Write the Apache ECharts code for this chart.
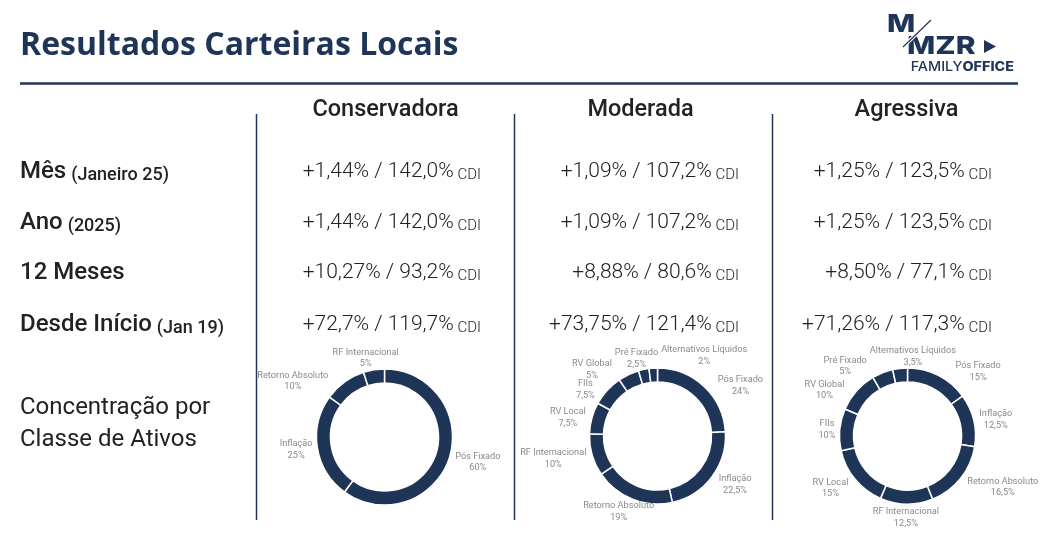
<!DOCTYPE html>
<html>
<head>
<meta charset="utf-8">
<script src="https://cdn.jsdelivr.net/npm/echarts@6/dist/echarts.min.js"></script>
<style>
  html, body { margin: 0; padding: 0; background: #fff; }
  #chart { width: 1043px; height: 533px; }
</style>
</head>
<body>
<div id="chart"></div>
<script>
// ── dados ────────────────────────────────────────────────────────────────
const carteiras = ['Conservadora', 'Moderada', 'Agressiva'];
const periodos = ['Mês', 'Ano', '12 Meses', 'Desde Início'];
const periodosDetalhe = ['(Janeiro 25)', '(2025)', '', '(Jan 19)'];

const retornoConservadora = ['+1,44%', '+1,44%', '+10,27%', '+72,7%'];
const cdiConservadora = ['142,0%', '142,0%', '93,2%', '119,7%'];
const retornoModerada = ['+1,09%', '+1,09%', '+8,88%', '+73,75%'];
const cdiModerada = ['107,2%', '107,2%', '80,6%', '121,4%'];
const retornoAgressiva = ['+1,25%', '+1,25%', '+8,50%', '+71,26%'];
const cdiAgressiva = ['123,5%', '123,5%', '77,1%', '117,3%'];

const classesConservadora = ['Pós Fixado', 'Inflação', 'Retorno Absoluto', 'RF Internacional'];
const pesosConservadora = [60, 25, 10, 5];
const classesModerada = ['Pós Fixado', 'Inflação', 'Retorno Absoluto', 'RF Internacional', 'RV Local',
  'FIIs', 'RV Global', 'Pré Fixado', 'Alternativos Líquidos'];
const pesosModerada = [24, 22.5, 19, 10, 7.5, 7.5, 5, 2.5, 2];
const classesAgressiva = classesModerada;
const pesosAgressiva = [15, 12.5, 16.5, 12.5, 15, 10, 10, 5, 3.5];

// ── estilo / layout ──────────────────────────────────────────────────────
const NAVY = '#1f3557';
const TEXT = '#222222';
const colX = [256.5, 514.5, 772.5];          // divisórias verticais
const colCenter = [385.5, 640.5, 906.5];      // centro dos cabeçalhos
const colRight = [481, 739, 992];             // alinhamento dos valores
const rowY = [172, 223, 273, 325];
const pieCenters = [[384.5, 437], [657.5, 436], [907.5, 436]];
const R_IN = 54, R_OUT = 68;
const LABEL_FONT = { size: 9.2, family: 'Roboto', weight: 400, lineHeight: 11.5 };

const fmtPct = v => String(v).replace('.', ',') + '%';

// mede texto para posicionar rótulos (centralizados como no original)
const ctx = document.createElement('canvas').getContext('2d');
ctx.font = `${LABEL_FONT.weight} ${LABEL_FONT.size}px ${LABEL_FONT.family}`;
const textW = s => ctx.measureText(s).width;

/** posições dos rótulos: por fora do anel, vizinhos empurrados no sentido horário */
function layoutRotulos(center, classes, pesos) {
  const RG = R_OUT + 2;
  const total = pesos.reduce((a, b) => a + b, 0);
  let acc = 0;
  const boxes = classes.map((nome, i) => {
    const a = (acc + pesos[i] / 2) / total * Math.PI * 2;
    acc += pesos[i];
    const w = Math.max(textW(nome), textW(fmtPct(pesos[i])));
    const h = LABEL_FONT.lineHeight * 2;
    const dx = Math.sin(a), dy = -Math.cos(a);
    let yc;
    if (dy >= 0) {
      yc = dy * (RG + h / 2);
    } else {
      const f = Math.min(1, Math.max(0, (-dy - 0.85) / 0.15));
      yc = dy * (RG - 1 + f * h / 2);
    }
    const yNear = (yc - h / 2 <= 0 && yc + h / 2 >= 0) ? 0 : Math.min(Math.abs(yc - h / 2), Math.abs(yc + h / 2));
    const xEdge = Math.sqrt(Math.max(0, RG * RG - yNear * yNear));
    const radial = dx * (RG + w / 2);
    let xc;
    if (dy < 0 && Math.abs(dx) < 0.25) xc = dx * 120;
    else if (dy >= 0 && Math.abs(dx) < 0.5) xc = radial;
    else xc = Math.sign(dx) * Math.max(Math.abs(radial), xEdge + 2 + w / 2);
    return { x: center[0] + xc, y: center[1] + yc, w, h };
  });
  for (let i = 1; i < boxes.length; i++) {
    const p = boxes[i - 1], b = boxes[i];
    const ox = (p.w + b.w) / 2 + 3 - Math.abs(b.x - p.x);
    const oy = (p.h + b.h) / 2 - 6 - Math.abs(b.y - p.y);
    if (ox > 0 && oy > 0) b.x += ox * (b.x >= p.x ? 1 : -1);
  }
  return boxes;
}

function pieSerie(center, classes, pesos) {
  const boxes = layoutRotulos(center, classes, pesos);
  return {
    type: 'pie',
    center: center,
    radius: [R_IN, R_OUT],
    startAngle: 90,
    clockwise: true,
    avoidLabelOverlap: false,
    silent: true,
    animation: false,
    data: classes.map((nome, i) => ({ name: nome, value: pesos[i] })),
    itemStyle: { color: NAVY, borderColor: '#ffffff', borderWidth: 1.5 },
    label: {
      show: true,
      position: 'outside',
      formatter: p => p.name + '\n' + fmtPct(p.value),
      color: '#8a8a8a',
      fontSize: LABEL_FONT.size,
      fontFamily: LABEL_FONT.family,
      fontWeight: LABEL_FONT.weight,
      lineHeight: LABEL_FONT.lineHeight
    },
    labelLine: { show: false },
    labelLayout: params => {
      const b = boxes[params.dataIndex];
      return { x: b.x, y: b.y, align: 'center', verticalAlign: 'middle' };
    }
  };
}

function txt(x, y, text, opts) {
  const o = Object.assign({ size: 20, weight: 400, family: 'Roboto', color: TEXT, align: 'left', scaleX: 1 }, opts || {});
  return {
    type: 'text',
    silent: true,
    x, y,
    scaleX: o.scaleX,
    style: {
      x: 0, y: 0, text,
      fontSize: o.size, fontWeight: o.weight, fontFamily: o.family,
      fill: o.color,
      align: o.align, textAlign: o.align,
      verticalAlign: 'middle', textVerticalAlign: 'middle',
      rich: o.rich
    }
  };
}

function line(x1, y1, x2, y2, w, color) {
  return {
    type: 'line', silent: true,
    shape: { x1, y1, x2, y2 },
    style: { stroke: color || NAVY, lineWidth: w }
  };
}

// ── elementos fixos ──────────────────────────────────────────────────────
const graphics = [];
graphics.push(txt(20, 46, 'Resultados Carteiras Locais', { size: 32, weight: 700, family: 'Open Sans', color: NAVY }));
graphics.push(line(20, 83.5, 1018, 83.5, 2.5));

// logo MMZR
const logoFont = { size: 25, weight: 800, family: 'Inter', color: NAVY, scaleX: 1.2 };
graphics.push(txt(887, 24, 'M', logoFont));
graphics.push(txt(907, 46, 'MZR', logoFont));
graphics.push(line(903, 47, 931, 20, 3.5, '#ffffff'));
graphics.push(line(903, 47, 931, 20, 1.2));
graphics.push({ type: 'polygon', silent: true, shape: { points: [[984, 40], [984, 53], [996, 46.5]] },
  style: { fill: NAVY } });
graphics.push(txt(1014, 67.5, '{a|FAMILY}{b|OFFICE}', {
  align: 'right', color: NAVY, scaleX: 1.15,
  rich: {
    a: { fontSize: 12.5, fontWeight: 500, fontFamily: 'Inter', color: NAVY },
    b: { fontSize: 12.5, fontWeight: 800, fontFamily: 'Inter', color: NAVY }
  }
}));

// cabeçalhos e divisórias
carteiras.forEach((c, i) => {
  graphics.push(txt(colCenter[i], 110.5, c, { size: 23.5, weight: 500, align: 'center' }));
  graphics.push(line(colX[i], 114, colX[i], 520, 1.5));
});

// rótulos das linhas
periodos.forEach((p, r) => {
  graphics.push(txt(20, rowY[r], `{a|${p}}` + (periodosDetalhe[r] ? ` {b|${periodosDetalhe[r]}}` : ''), {
    rich: {
      a: { fontSize: 24, fontWeight: 500, fontFamily: 'Roboto', color: TEXT, verticalAlign: 'bottom' },
      b: { fontSize: 18, fontWeight: 500, fontFamily: 'Roboto', color: TEXT, verticalAlign: 'bottom' }
    }
  }));
});

// valores
const retornos = [retornoConservadora, retornoModerada, retornoAgressiva];
const cdis = [cdiConservadora, cdiModerada, cdiAgressiva];
retornos.forEach((col, c) => {
  col.forEach((ret, r) => {
    graphics.push(txt(colRight[c], rowY[r], `{v|${ret} / ${cdis[c][r]}}{c| CDI}`, {
      align: 'right',
      rich: {
        v: { fontSize: 21, fontWeight: 300, fontFamily: 'Roboto', color: '#333333', verticalAlign: 'bottom' },
        c: { fontSize: 15, fontWeight: 300, fontFamily: 'Roboto', color: '#333333', verticalAlign: 'bottom' }
      }
    }));
  });
});

graphics.push(txt(20, 408, 'Concentração por', { size: 24 }));
graphics.push(txt(20, 440, 'Classe de Ativos', { size: 24 }));

// ── gráfico ──────────────────────────────────────────────────────────────
const chart = echarts.init(document.getElementById('chart'), null, { renderer: 'canvas' });
chart.setOption({
  backgroundColor: '#ffffff',
  animation: false,
  graphic: { elements: graphics },
  series: [
    pieSerie(pieCenters[0], classesConservadora, pesosConservadora),
    pieSerie(pieCenters[1], classesModerada, pesosModerada),
    pieSerie(pieCenters[2], classesAgressiva, pesosAgressiva)
  ]
});
</script>
</body>
</html>
